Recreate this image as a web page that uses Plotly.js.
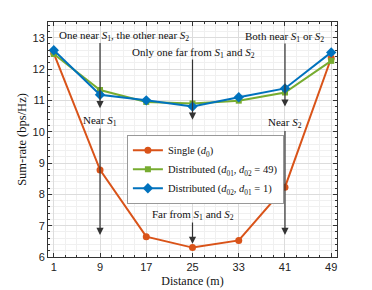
<!DOCTYPE html>
<html><head><meta charset="utf-8">
<script src="https://cdn.plot.ly/plotly-3.0.1.min.js"></script>
<style>html,body{margin:0;padding:0;background:#fff}#c{width:372px;height:290px}</style>
</head><body><div id="c"></div>
<script>
const distance = [1, 9, 17, 25, 33, 41, 49];
const singleRate = [12.5, 8.78, 6.65, 6.3, 6.53, 8.23, 12.35];
const distRate49 = [12.48, 11.33, 10.95, 10.9, 10.99, 11.25, 12.26];
const distRate1 = [12.6, 11.18, 11.0, 10.8, 11.1, 11.38, 12.53];
const xTicks = [1, 9, 17, 25, 33, 41, 49];
const seriesNames = ['Single (<i>d</i><sub>0</sub>)', 'Distributed (<i>d</i><sub>01</sub>, <i>d</i><sub>02</sub> = 49)', 'Distributed (<i>d</i><sub>02</sub>, <i>d</i><sub>01</sub> = 1)'];
const labels = [
  {text: 'One near <i>S</i><sub>1</sub>, the other near <i>S</i><sub>2</sub>', x: 13.1, y: 13.06, ax: 9, ay0: 12.88, ay1: 10.75},
  {text: 'Only one far from <i>S</i><sub>1</sub> and <i>S</i><sub>2</sub>', x: 25.1, y: 12.52, ax: 25, ay0: 12.35, ay1: 10.38},
  {text: 'Both near <i>S</i><sub>1</sub> or <i>S</i><sub>2</sub>', x: 41, y: 13.03, ax: 41, ay0: 12.86, ay1: 10.8},
  {text: 'Near <i>S</i><sub>1</sub>', x: 9, y: 10.35, ax: 9, ay0: 10.15, ay1: 6.7},
  {text: 'Near <i>S</i><sub>2</sub>', x: 41, y: 10.27, ax: 41, ay0: 10.07, ay1: 6.7},
  {text: 'Far from <i>S</i><sub>1</sub> and <i>S</i><sub>2</sub>', x: 25, y: 7.33, ax: 25, ay0: 7.15, ay1: 6.42}
];
const serif = 'Liberation Serif, DejaVu Serif, serif';
const traces = [
  {x: distance, y: singleRate, name: seriesNames[0], mode: 'lines+markers', line: {color: '#D95319', width: 2}, marker: {symbol: 'circle', size: 7, color: '#D95319'}},
  {x: distance, y: distRate49, name: seriesNames[1], mode: 'lines+markers', line: {color: '#77AC30', width: 2}, marker: {symbol: 'square', size: 6, color: '#77AC30'}},
  {x: distance, y: distRate1, name: seriesNames[2], mode: 'lines+markers', line: {color: '#0072BD', width: 2}, marker: {symbol: 'diamond', size: 8, color: '#0072BD'}}
];
const annotations = [];
labels.forEach(l => {
  annotations.push({x: l.x, y: l.y, xref: 'x', yref: 'y', text: l.text, showarrow: false, font: {family: serif, size: 11, color: '#111'}});
  annotations.push({x: l.ax, y: l.ay1, xref: 'x', yref: 'y', axref: 'x', ayref: 'y', ax: l.ax, ay: l.ay0, text: '', showarrow: true, arrowhead: 2, arrowsize: 1.2, arrowwidth: 1.2, arrowcolor: '#333'});
});
const layout = {
  width: 372, height: 290,
  margin: {l: 48, r: 35, t: 22, b: 33},
  paper_bgcolor: '#fff', plot_bgcolor: '#fff',
  showlegend: true,
  legend: {x: 0.273, y: 0.52, xanchor: 'left', yanchor: 'top', bgcolor: '#fff', bordercolor: '#999', borderwidth: 1, font: {family: serif, size: 10.5, color: '#111'}, tracegroupgap: 0, itemwidth: 30},
  xaxis: {range: [0, 50], tickvals: xTicks, ticktext: xTicks.map(String), ticks: 'inside', ticklen: 4, tickcolor: '#333', mirror: 'allticks', showline: true, linecolor: '#333', linewidth: 1,
    showgrid: true, gridcolor: '#dcdcdc', zeroline: false,
    minor: {dtick: 2, tick0: 1, showgrid: true, gridcolor: '#f0f0f0', ticks: 'inside', ticklen: 2, tickcolor: '#333'},
    tickfont: {family: 'Liberation Sans, Arial, sans-serif', size: 11, color: '#222'},
    title: {text: 'Distance (m)', font: {family: serif, size: 12, color: '#111'}, standoff: 4}},
  yaxis: {range: [6, 13.5], dtick: 1, ticks: 'inside', ticklen: 4, tickcolor: '#333', mirror: 'allticks', showline: true, linecolor: '#333', linewidth: 1,
    showgrid: true, gridcolor: '#dcdcdc', zeroline: false, automargin: true,
    minor: {dtick: 0.2, showgrid: true, gridcolor: '#f0f0f0', ticks: 'inside', ticklen: 2, tickcolor: '#333'},
    tickfont: {family: 'Liberation Sans, Arial, sans-serif', size: 11, color: '#222'},
    title: {text: 'Sum-rate (bps/Hz)', font: {family: serif, size: 12.5, color: '#111'}, standoff: 3}},
  annotations: annotations
};
Plotly.newPlot('c', traces, layout, {displayModeBar: false, staticPlot: true});
</script></body></html>
